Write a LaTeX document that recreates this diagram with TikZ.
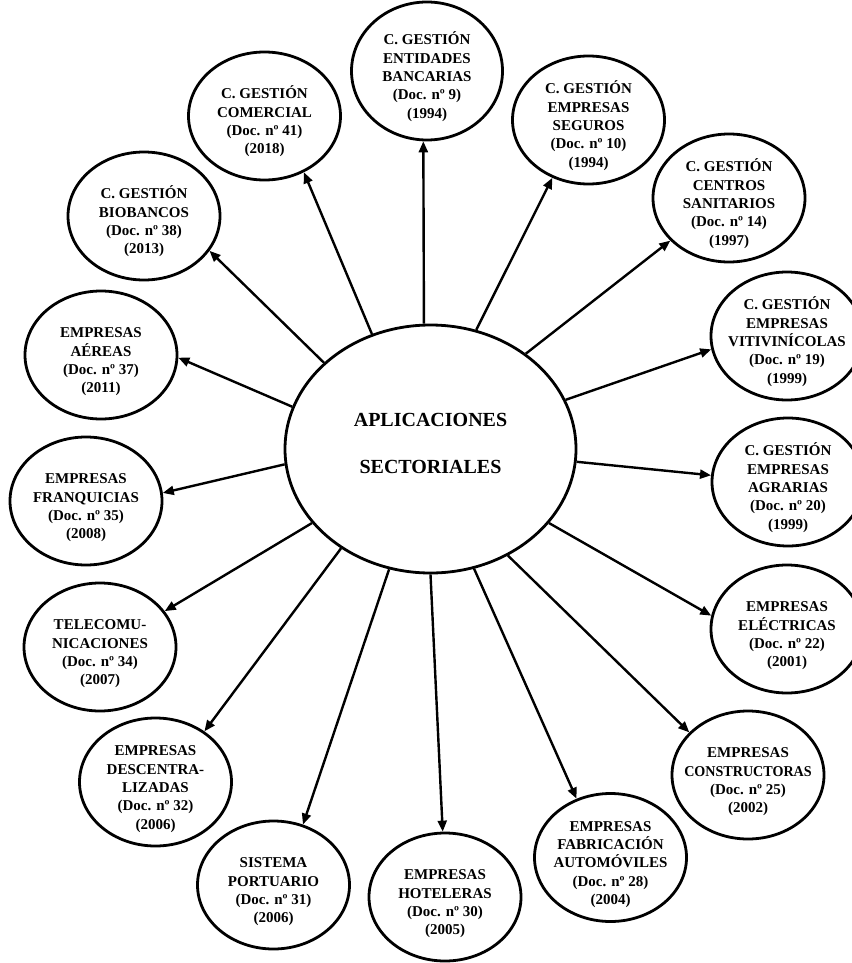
\documentclass[tikz,border=0pt]{standalone}
\usepackage{fontspec}
\setmainfont{Liberation Serif}
\usetikzlibrary{arrows.meta,shapes.geometric}
\newcommand{\topstrut}{\rule{0pt}{24pt}}
\begin{document}
\begin{tikzpicture}[x=1pt,y=-1pt,
  sat/.style={ellipse, draw, line width=2.8pt, minimum width=152pt, minimum height=128pt,
    inner xsep=-40pt, inner ysep=-30pt, align=center, font=\bfseries\fontsize{15}{18.3}\selectfont},
  hub/.style={ellipse, draw, line width=2.8pt, minimum width=291pt, minimum height=248pt,
    inner sep=0pt, align=center, font=\bfseries\fontsize{20}{47}\selectfont},
  link/.style={line width=2.4pt, -{Triangle[length=11pt,width=9pt]}}]
\useasboundingbox (0,0) rectangle (851,963);

\node[hub] (hub) at (430.5,449) {APLICACIONES\\SECTORIALES\rule[-11pt]{0pt}{11pt}};

\node[sat, minimum width=151pt, minimum height=138pt] (ban) at (427,71) {\topstrut C. GESTIÓN\\ENTIDADES\\BANCARIAS\\(Doc. nº 9)\\(1994)};
\node[sat] (com) at (264.5,116) {\topstrut C. GESTIÓN\\COMERCIAL\\(Doc. nº 41)\\(2018)};
\node[sat] (bio) at (144,216) {\topstrut C. GESTIÓN\\BIOBANCOS\\(Doc. nº 38)\\(2013)};
\node[sat] (seg) at (588.5,120) {\topstrut C. GESTIÓN\\EMPRESAS\\SEGUROS\\(Doc. nº 10)\\(1994)};
\node[sat] (san) at (729,198) {\topstrut C. GESTIÓN\\CENTROS\\SANITARIOS\\(Doc. nº 14)\\(1997)};
\node[sat] (vit) at (787,336) {\topstrut C. GESTIÓN\\EMPRESAS\\VITIVINÍCOLAS\\(Doc. nº 19)\\(1999)};
\node[sat] (agr) at (788,482) {\topstrut C. GESTIÓN\\EMPRESAS\\AGRARIAS\\(Doc. nº 20)\\(1999)};
\node[sat] (ele) at (787,629) {\topstrut EMPRESAS\\ELÉCTRICAS\\(Doc. nº 22)\\(2001)};
\node[sat] (con) at (748,775) {\topstrut EMPRESAS\\\scalebox{0.94}[1]{CONSTRUCTORAS}\\(Doc. nº 25)\\(2002)};
\node[sat] (fab) at (610.5,857.5) {\topstrut EMPRESAS\\FABRICACIÓN\\AUTOMÓVILES\\(Doc. nº 28)\\(2004)};
\node[sat] (hot) at (445,897) {\topstrut EMPRESAS\\HOTELERAS\\(Doc. nº 30)\\(2005)};
\node[sat] (por) at (273.5,885) {\topstrut SISTEMA\\PORTUARIO\\(Doc. nº 31)\\(2006)};
\node[sat] (des) at (155.5,782) {\topstrut EMPRESAS\\DESCENTRA-\\LIZADAS\\(Doc. nº 32)\\(2006)};
\node[sat] (tel) at (100,647) {\topstrut TELECOMU-\\NICACIONES\\(Doc. nº 34)\\(2007)};
\node[sat] (fra) at (86,501) {\topstrut EMPRESAS\\FRANQUICIAS\\(Doc. nº 35)\\(2008)};
\node[sat] (aer) at (101,355) {\topstrut EMPRESAS\\AÉREAS\\(Doc. nº 37)\\(2011)};

\draw[link] (hub.93.5) -- (ban.-93.3);
\draw[link] (hub.117.9) -- (com.-55.8);
\draw[link] (hub.141.3) -- (bio.-28.8);
\draw[link] (hub.69.8) -- (seg.-122.5);
\draw[link] (hub.45.2) -- (san.-144.2);
\draw[link] (hub.20.3) -- (vit.-170.2);
\draw[link] (hub.-5.5) -- (agr.175.6);
\draw[link] (hub.-32.5) -- (ele.170);
\draw[link] (hub.-54.3) -- (con.144.8);
\draw[link] (hub.-70.8) -- (fab.120.1);
\draw[link] (hub.-90) -- (hot.92.9);
\draw[link] (hub.-109.9) -- (por.64.5);
\draw[link] (hub.-132.7) -- (des.46.4);
\draw[link] (hub.-148.4) -- (tel.29.6);
\draw[link] (hub.-174.5) -- (fra.6.4);
\draw[link] (hub.163.9) -- (aer.-2.3);
\end{tikzpicture}
\end{document}
